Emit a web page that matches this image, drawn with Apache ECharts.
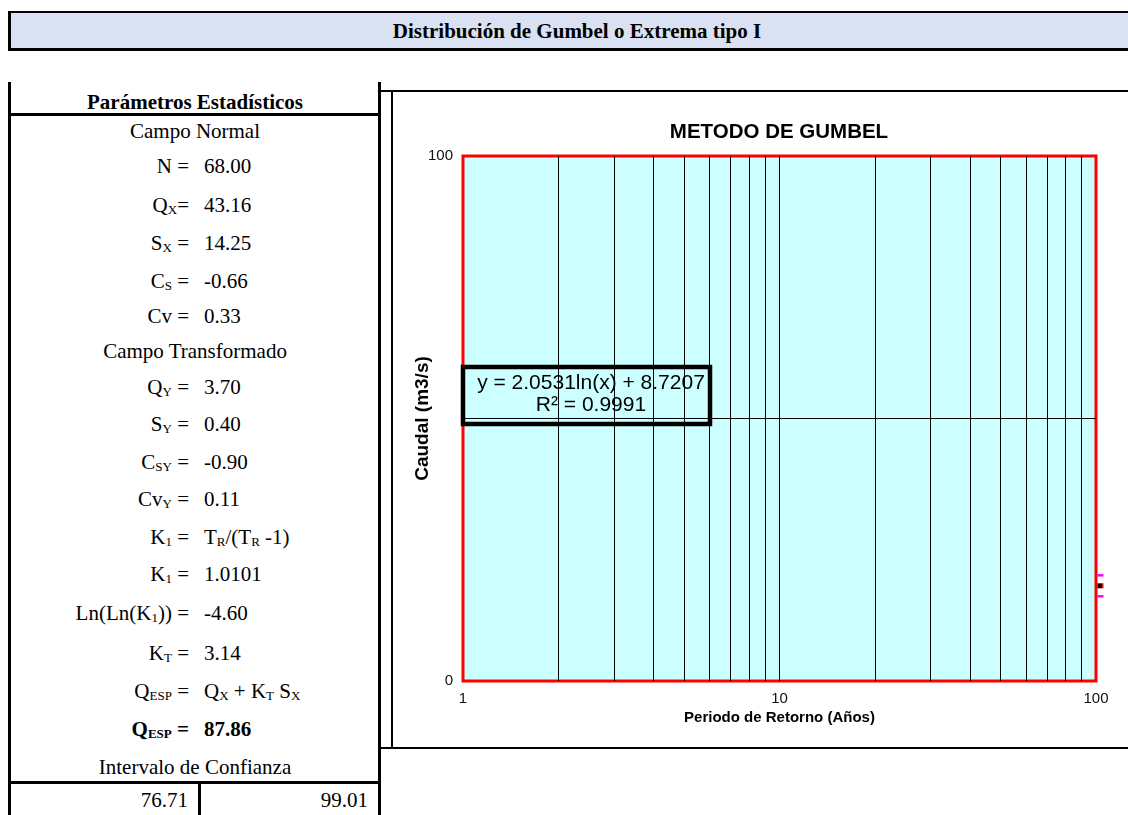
<!DOCTYPE html>
<html lang="es">
<head>
<meta charset="utf-8">
<title>Distribución de Gumbel o Extrema tipo I</title>
<script src="https://cdn.jsdelivr.net/npm/echarts@6/dist/echarts.min.js"></script>
<style>
  html, body { margin: 0; padding: 0; background: #fff; }
  body { width: 1128px; height: 815px; position: relative; overflow: hidden;
         font-family: "Liberation Serif", "Times New Roman", serif; color: #000; }
  .abs { position: absolute; }
  #titlebar { left: 8px; top: 11px; width: 1120px; height: 35px; background: #D9E1F2;
              border-top: 2px solid #000; border-left: 3px solid #000; border-bottom: 3px solid #000; }
  #titlebar span { position: absolute; left: 566px; top: 0; line-height: 36px; transform: translateX(-50%);
                   font-weight: bold; font-size: 21px; white-space: nowrap; }
  .vline { background: #000; }
  .hline { background: #000; }
  .row { position: absolute; height: 24px; line-height: 24px; font-size: 21px; white-space: nowrap; }
  .lab { left: 10px; width: 179px; text-align: right; }
  .val { left: 204px; }
  .ctr { left: 10px; width: 370px; text-align: center; }
  sub { font-size: 0.62em; vertical-align: -0.12em; line-height: 0; }
  #chart { position: absolute; left: 392px; top: 90px; width: 736px; height: 658px; }
</style>
</head>
<body>
<div id="titlebar" class="abs"><span id="titleText"></span></div>

<!-- table frame -->
<div class="abs vline" style="left:8px; top:82px; width:3px; height:733px;"></div>
<div class="abs vline" style="left:378px; top:82px; width:3px; height:733px;"></div>
<div class="abs hline" style="left:8px; top:113px; width:373px; height:3px;"></div>
<div class="abs hline" style="left:8px; top:781px; width:373px; height:3px;"></div>
<div class="abs vline" style="left:198px; top:781px; width:3px; height:34px;"></div>

<!-- chart frame -->
<div class="abs hline" style="left:380px; top:90px; width:748px; height:1.5px;"></div>
<div class="abs vline" style="left:391px; top:90px; width:1.5px; height:658px;"></div>
<div class="abs hline" style="left:380px; top:747px; width:748px; height:2px;"></div>

<div id="table"></div>
<div id="chart"></div>

<script>
// ---- sheet texts ----
const sheetTitle = 'Distribución de Gumbel o Extrema tipo I';
const tableHeader = 'Parámetros Estadísticos';
const groupNormal = 'Campo Normal';
const groupTransf = 'Campo Transformado';
const intervalTitle = 'Intervalo de Confianza';

// statistic labels and values, row by row
const statLabels = [
  'N =', 'Q<sub>X</sub>=', 'S<sub>X</sub> =', 'C<sub>S</sub> =', 'Cv =',
  null,
  'Q<sub>Y</sub> =', 'S<sub>Y</sub> =', 'C<sub>SY</sub> =', 'Cv<sub>Y</sub> =',
  'K<sub>1</sub> =', 'K<sub>1</sub> =', 'Ln(Ln(K<sub>1</sub>)) =', 'K<sub>T</sub> =',
  'Q<sub>ESP</sub> =', 'Q<sub>ESP</sub> ='
];
const statValues = [
  '68.00', '43.16', '14.25', '-0.66', '0.33',
  null,
  '3.70', '0.40', '-0.90', '0.11',
  'T<sub>R</sub>/(T<sub>R</sub> -1)', '1.0101', '-4.60', '3.14',
  'Q<sub>X</sub> + K<sub>T</sub> S<sub>X</sub>', '87.86'
];
const statRowY = [166, 205, 243, 281, 316, 351, 387, 424, 462, 499, 537, 574, 613, 653, 691, 729];
const boldRows = [15];
const confidence = ['76.71', '99.01'];

// ---- chart data ----
const chartTitle = 'METODO DE GUMBEL';
const xAxisTitle = 'Periodo de Retorno (Años)';
const yAxisTitle = 'Caudal (m3/s)';
const xRange = [1, 100];
const yRange = [0, 100];
const yTickLabels = [0, 100];
const xGridLines = [2, 3, 4, 5, 6, 7, 8, 9, 10, 20, 30, 40, 50, 60, 70, 80, 90];
const yGridLines = [50];
const returnPeriod = [100];
const flow = [18.13];
const flowError = [2.0];
const trendSlope = 2.0531;
const trendIntercept = 8.7207;
const trendR2 = 0.9991;

// ---- sheet table ----
document.getElementById('titleText').textContent = sheetTitle;
const table = document.getElementById('table');
function addRow(cls, y, html, bold) {
  const d = document.createElement('div');
  d.className = 'row ' + cls;
  d.style.top = (y - 12) + 'px';
  d.innerHTML = html;
  if (bold) d.style.fontWeight = 'bold';
  table.appendChild(d);
}
addRow('ctr', 102, tableHeader, true);
addRow('ctr', 131, groupNormal, false);
statLabels.forEach((lab, i) => {
  const y = statRowY[i];
  if (lab === null) { addRow('ctr', y, groupTransf, false); return; }
  const b = boldRows.includes(i);
  addRow('lab', y, lab, b);
  addRow('val', y, statValues[i], b);
});
addRow('ctr', 767, intervalTitle, false);
const c1 = document.createElement('div');
c1.className = 'row'; c1.style.cssText = 'left:10px;width:178px;text-align:right;top:788px;';
c1.textContent = confidence[0]; table.appendChild(c1);
const c2 = document.createElement('div');
c2.className = 'row'; c2.style.cssText = 'left:200px;width:168px;text-align:right;top:788px;';
c2.textContent = confidence[1]; table.appendChild(c2);

// ---- chart ----
const chart = echarts.init(document.getElementById('chart'), null, { renderer: 'canvas' });
const sans = '"Liberation Sans", Arial, sans-serif';
const trendText = 'y = ' + trendSlope.toFixed(4) + 'ln(x) + ' + trendIntercept.toFixed(4) +
                  '\nR² = ' + trendR2.toFixed(4);

chart.setOption({
  animation: false,
  backgroundColor: 'transparent',
  grid: {
    left: 71, top: 66, width: 633, height: 525,
    show: true, backgroundColor: '#CCFFFF', borderColor: '#FF0000', borderWidth: 3
  },
  xAxis: {
    type: 'log', logBase: 10, min: xRange[0], max: xRange[1],
    name: xAxisTitle, nameLocation: 'middle', nameGap: 29, nameMoveOverlap: false,
    nameTextStyle: { fontFamily: sans, fontWeight: 'bold', fontSize: 15, color: '#000' },
    axisLine: { show: false }, axisTick: { show: false }, splitLine: { show: false },
    axisLabel: { margin: 10, fontFamily: sans, fontSize: 15, color: '#111' }
  },
  yAxis: {
    type: 'value', min: yRange[0], max: yRange[1], interval: 50,
    name: yAxisTitle, nameLocation: 'middle', nameGap: 31, nameRotate: 90, nameMoveOverlap: false,
    nameTextStyle: { fontFamily: sans, fontWeight: 'bold', fontSize: 19, color: '#000' },
    axisLine: { show: false }, axisTick: { show: false }, splitLine: { show: false },
    axisLabel: {
      margin: 10, fontFamily: sans, fontSize: 15, color: '#111',
      formatter: v => (yTickLabels.includes(v) ? String(v) : '')
    }
  },
  graphic: [
    {
      type: 'text', z: 100, x: 387, y: 42,
      style: { text: chartTitle, font: 'bold 20.5px ' + sans, fill: '#000',
               textAlign: 'center', textVerticalAlign: 'middle' }
    },
    {
      type: 'group', z: 100, x: 71, y: 277,
      children: [
        { type: 'rect', shape: { x: 0, y: 0, width: 247, height: 57 },
          style: { fill: '#CCFFFF', stroke: '#000', lineWidth: 4.5 } },
        { type: 'text', x: 128, y: 27,
          style: { text: trendText, font: '21px ' + sans, fill: '#000', lineHeight: 22,
                   textAlign: 'center', textVerticalAlign: 'middle' } }
      ]
    }
  ],
  series: [
    {
      type: 'line', data: [], silent: true,
      markLine: {
        silent: true, symbol: 'none', animation: false,
        label: { show: false },
        lineStyle: { color: '#000', width: 1, type: 'solid' },
        data: xGridLines.map(v => ({ xAxis: v })).concat(yGridLines.map(v => ({ yAxis: v })))
      }
    },
    {
      type: 'custom', clip: false, silent: true,
      data: returnPeriod.map((t, i) => [t, flow[i], flowError[i]]),
      renderItem: function (params, api) {
        const x = api.value(0), y = api.value(1), e = api.value(2);
        const c = api.coord([x, y]);
        const hi = api.coord([x, y + e]);
        const lo = api.coord([x, y - e]);
        return {
          type: 'group',
          children: [
            { type: 'rect', shape: { x: c[0] + 1.5, y: c[1] - 2.5, width: 4.5, height: 5 },
              style: { fill: '#000' } },
            { type: 'rect', shape: { x: c[0] + 6, y: c[1] - 2.5, width: 1.5, height: 5 },
              style: { fill: '#FF0000' } },
            { type: 'line', shape: { x1: c[0] + 1.5, y1: hi[1], x2: c[0] + 7.5, y2: hi[1] },
              style: { stroke: '#FF00FF', lineWidth: 2.5 } },
            { type: 'line', shape: { x1: c[0] + 1.5, y1: lo[1], x2: c[0] + 7.5, y2: lo[1] },
              style: { stroke: '#FF00FF', lineWidth: 2.5 } }
          ]
        };
      }
    }
  ]
});
</script>
</body>
</html>
